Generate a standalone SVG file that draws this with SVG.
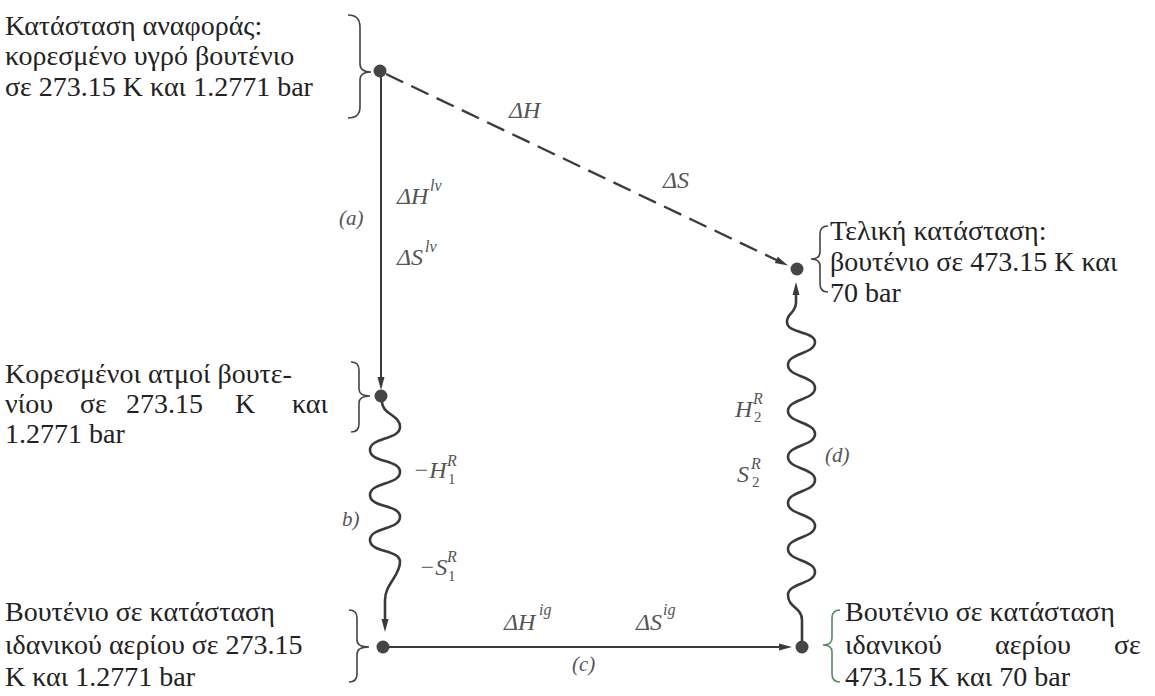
<svg xmlns="http://www.w3.org/2000/svg" width="1155" height="696" viewBox="0 0 1155 696" font-family="Liberation Serif">
<rect width="1155" height="696" fill="#ffffff"/>

<g id="connectors" fill="none" stroke="#3a3a3a" stroke-width="2">
<line x1="381" y1="77" x2="381" y2="379"/>
<line x1="386" y1="74" x2="777" y2="260.3" stroke-dasharray="19 9" stroke-width="2.3"/>
<path stroke-width="2.6" d="M382,402 C382,414 400,415 400,427 C400,440 370,437 370,450 C370,463 400,459 400,472 C400,485 370,482 370,495 C370,508 400,504 400,517 C400,530 370,527 370,540 C370,553 400,549 400,562 C400,576 385,584 385,600 L385,621"/>
<line x1="389" y1="647" x2="781" y2="647"/>
<path stroke-width="2.6" d="M802,641 L802,620 C802,607 788,608 788,595 C788,583 815,584 815,572 C815,560 788,561 788,549 C788,537 815,538 815,526 C815,514 788,515 788,503 C788,491 815,492 815,480 C815,468 788,469 788,457 C788,445 815,446 815,434 C815,422 788,423 788,411 C788,399 815,400 815,388 C815,376 788,377 788,365 C788,353 815,354 815,342 C815,331 787,334 787,322 C787,312 796,314 796,302 L796,293"/>
<g fill="#3a3a3a" stroke="none">
<polygon points="377.5,377 384.5,377 381,390"/>
<polygon points="774.8,263.1 777.8,256.7 788,265.5"/>
<polygon points="381.5,619 388.5,619 385,632"/>
<polygon points="779,643.5 779,650.5 792,647"/>
<polygon points="792.5,295 799.5,295 796,282"/>
</g>
</g>

<g id="labels">
<g font-size="24" fill="#555">
<text font-family="Liberation Serif" font-style="italic" x="509" y="118">ΔH</text>
<text font-family="Liberation Serif" font-style="italic" x="663" y="188">ΔS</text>
<text font-family="Liberation Serif" font-style="italic" x="397" y="204">ΔH</text>
<text font-family="Liberation Serif" font-style="italic" x="397" y="265">ΔS</text>
<text font-family="Liberation Serif" font-style="italic" x="413" y="478">−H</text>
<text font-family="Liberation Serif" font-style="italic" x="419" y="575">−S</text>
<text font-family="Liberation Serif" font-style="italic" x="504" y="630">ΔH</text>
<text font-family="Liberation Serif" font-style="italic" x="636" y="630">ΔS</text>
<text font-family="Liberation Serif" font-style="italic" x="735" y="417">H</text>
<text font-family="Liberation Serif" font-style="italic" x="737" y="482">S</text>
</g>
<g font-size="21" fill="#555">
<text font-family="Liberation Serif" font-style="italic" x="339" y="225">(a)</text>
<text font-family="Liberation Serif" font-style="italic" x="342" y="526">b)</text>
<text font-family="Liberation Serif" font-style="italic" x="572" y="671">(c)</text>
<text font-family="Liberation Serif" font-style="italic" x="825" y="462">(d)</text>
</g>
<g font-size="16" fill="#555">
<text font-family="Liberation Serif" font-style="italic" x="430" y="191">lv</text>
<text font-family="Liberation Serif" font-style="italic" x="425" y="252">lv</text>
<text font-family="Liberation Serif" font-style="italic" x="447" y="466">R</text>
<text font-family="Liberation Serif" font-style="italic" x="447" y="562">R</text>
<text font-family="Liberation Serif" font-style="italic" x="539" y="615">ig</text>
<text font-family="Liberation Serif" font-style="italic" x="663" y="615">ig</text>
<text font-family="Liberation Serif" font-style="italic" x="753" y="404">R</text>
<text font-family="Liberation Serif" font-style="italic" x="751" y="469">R</text>
</g>
<g font-size="15" fill="#555">
<text font-family="Liberation Serif" x="448" y="484">1</text>
<text font-family="Liberation Serif" x="448" y="581">1</text>
<text font-family="Liberation Serif" x="754" y="422">2</text>
<text font-family="Liberation Serif" x="752" y="487">2</text>
</g>
</g>

<g id="node-reference">
<circle cx="380" cy="71" r="6.5" fill="#454545"/>
<path d="M348,15 Q360,15 360,27 L360,64 Q360,72 371,72 Q360,72 360,80 L360,107 Q360,118 348,118" fill="none" stroke="#444" stroke-width="1.6"/>
<g font-size="28" fill="#222">
<text font-family="Liberation Serif" x="5" y="35">Κατάσταση αναφοράς:</text>
<text font-family="Liberation Serif" x="5" y="65">κορεσμένο υγρό βουτένιο</text>
<text font-family="Liberation Serif" x="5" y="96">σε 273.15 K και 1.2771 bar</text>
</g>
</g>

<g id="node-saturated-vapor">
<circle cx="381" cy="396" r="6.5" fill="#454545"/>
<path d="M351,362 Q359,362 359,370 L359,389 Q359,396 370,396 Q359,396 359,403 L359,424 Q359,432 351,432" fill="none" stroke="#444" stroke-width="1.6"/>
<g font-size="28" fill="#222">
<text font-family="Liberation Serif" x="5" y="383">Κορεσμένοι ατμοί βουτε-</text>
<text font-family="Liberation Serif" y="413"><tspan x="5">νίου</tspan><tspan x="80">σε</tspan><tspan x="126">273.15</tspan><tspan x="235">K</tspan><tspan x="292">και</tspan></text>
<text font-family="Liberation Serif" x="5" y="443">1.2771 bar</text>
</g>
</g>

<g id="node-ideal-gas-1">
<circle cx="383" cy="647" r="6.5" fill="#454545"/>
<path d="M349,610 Q357,610 357,618 L357,640 Q357,647 369,647 Q357,647 357,654 L357,674 Q357,682 349,682" fill="none" stroke="#444" stroke-width="1.6"/>
<g font-size="28" fill="#222">
<text font-family="Liberation Serif" x="5" y="621">Βουτένιο σε κατάσταση</text>
<text font-family="Liberation Serif" x="5" y="654">ιδανικού αερίου σε 273.15</text>
<text font-family="Liberation Serif" x="5" y="686">K και 1.2771 bar</text>
</g>
</g>

<g id="node-ideal-gas-2">
<circle cx="802" cy="647" r="6.5" fill="#454545"/>
<path d="M840,610 Q832,610 832,618 L832,638 Q832,645 823,645 Q832,645 832,652 L832,674 Q832,682 840,682" fill="none" stroke="#4f8f5f" stroke-width="1.6"/>
<g font-size="28" fill="#222">
<text font-family="Liberation Serif" x="845" y="621">Βουτένιο σε κατάσταση</text>
<text font-family="Liberation Serif" y="654"><tspan x="845">ιδανικού</tspan><tspan x="995">αερίου</tspan><tspan x="1114">σε</tspan></text>
<text font-family="Liberation Serif" x="845" y="686">473.15 K και 70 bar</text>
</g>
</g>

<g id="node-final">
<circle cx="797" cy="269" r="6.5" fill="#454545"/>
<path d="M828,226 Q820,226 820,234 L820,252 Q820,259 811,259 Q820,259 820,266 L820,284 Q820,292 828,292" fill="none" stroke="#444" stroke-width="1.6"/>
<g font-size="28" fill="#222">
<text font-family="Liberation Serif" x="830" y="240">Τελική κατάσταση:</text>
<text font-family="Liberation Serif" x="830" y="271">βουτένιο σε 473.15 K και</text>
<text font-family="Liberation Serif" x="830" y="302">70 bar</text>
</g>
</g>
</svg>
